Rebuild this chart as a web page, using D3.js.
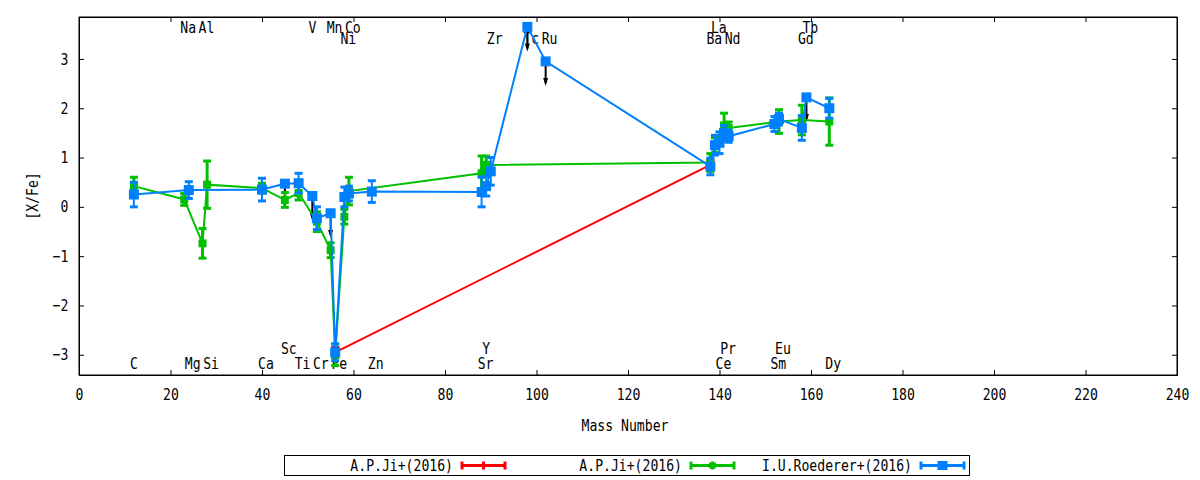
<!DOCTYPE html>
<html>
<head>
<meta charset="utf-8">
<script src="https://cdn.jsdelivr.net/npm/d3@7"></script>
<style>
  body { margin: 0; background: #fff; }
  text { font-family: "DejaVu Sans Mono", monospace; font-size: 16px; fill: #000; }
</style>
</head>
<body>
<script>
// element labels (name, mass number, row baseline in [X/Fe] units)
const labelNames = ['Na', 'Al', 'V', 'Mn', 'Co', 'La', 'Tb',
                    'Ni', 'Zr', 'Tc', 'Ru', 'Ba', 'Nd', 'Gd',
                    'Sc', 'Y', 'Pr', 'Eu',
                    'C', 'Mg', 'Si', 'Ca', 'Ti', 'Cr', 'Fe', 'Zn', 'Sr', 'Ce', 'Sm', 'Dy'];
const labelMass = [23, 27, 51, 55, 59, 139, 159,
                   58, 90, 98, 102, 138, 142, 158,
                   45, 89, 141, 153,
                   12, 24, 28, 40, 48, 52, 56, 64, 88, 140, 152, 164];
const labelRow = [3.53, 3.53, 3.53, 3.53, 3.53, 3.53, 3.53,
                  3.31, 3.31, 3.31, 3.31, 3.31, 3.31, 3.31,
                  -2.99, -2.99, -2.99, -2.99,
                  -3.28, -3.28, -3.28, -3.28, -3.28, -3.28, -3.28, -3.28, -3.28, -3.28, -3.28, -3.28];

// A.P.Ji+(2016), red
const redMass = [56, 138];
const redVal = [-2.95, 0.85];
const redErr = [0.1, 0.1];

// A.P.Ji+(2016), green
const greenMass = [12, 23, 27, 28, 40, 45, 48, 52, 55, 56, 58, 59, 88, 89, 138, 139, 141, 142, 153, 158, 164];
const greenVal = [0.42, 0.15, -0.74, 0.45, 0.38, 0.14, 0.28, -0.3, -0.88, -3.0, -0.2, 0.32, 0.68, 0.85, 0.9, 1.25, 1.65, 1.6, 1.73, 1.76, 1.73];
const greenErr = [0.18, 0.12, 0.3, 0.48, 0.1, 0.15, 0.14, 0.2, 0.15, 0.22, 0.15, 0.28, 0.35, 0.18, 0.18, 0.15, 0.25, 0.12, 0.24, 0.3, 0.48];

// I.U.Roederer+(2016), blue; upper = 1 for upper limits
const blueMass = [12, 24, 40, 45, 48, 51, 52, 55, 56, 58, 59, 64, 88, 89, 90, 98, 102, 138, 139, 140, 141, 142, 152, 153, 158, 159, 164];
const blueVal = [0.25, 0.34, 0.35, 0.47, 0.48, 0.22, -0.23, -0.13, -2.95, 0.2, 0.27, 0.31, 0.3, 0.42, 0.72, 3.65, 2.95, 0.82, 1.25, 1.3, 1.5, 1.43, 1.68, 1.78, 1.6, 2.22, 2.0];
const blueErr = [0.25, 0.17, 0.23, 0, 0.2, 0, 0.23, 0, 0.17, 0.2, 0.15, 0.22, 0.3, 0.2, 0.28, 0, 0, 0.17, 0.2, 0.22, 0.15, 0.12, 0.15, 0.12, 0.25, 0, 0.2];
const blueUpper = [0, 0, 0, 1, 0, 1, 0, 1, 0, 0, 0, 0, 0, 0, 0, 1, 1, 0, 0, 0, 0, 0, 0, 0, 0, 1, 0];

const xTicks = [0, 20, 40, 60, 80, 100, 120, 140, 160, 180, 200, 220, 240];
const yTicks = [-3, -2, -1, 0, 1, 2, 3];

// plot frame
const pLeft = 79, pRight = 1177, pTop = 17, pBottom = 375;
const sx = 0.82;      // squeeze text horizontally
const charW = 7.9;

const x = d3.scaleLinear().domain([0, 240]).range([pLeft, pRight]);
const y = d3.scaleLinear().domain([-3.41, 3.85]).range([pBottom, pTop]);

const svg = d3.select('body').append('svg')
    .attr('width', 1200)
    .attr('height', 480);

function txt(g, px, py, s, anchor, rot) {
    return g.append('text')
        .attr('transform', `translate(${px},${py})` + (rot ? ` rotate(${rot})` : '') + ` scale(${sx},1)`)
        .attr('text-anchor', anchor)
        .text(s);
}

// axes with inward ticks on all four sides
svg.append('g')
    .attr('transform', `translate(0,${pBottom})`)
    .call(d3.axisBottom(x).tickValues(xTicks).tickSizeInner(-5).tickSizeOuter(0).tickPadding(14));
svg.append('g')
    .attr('transform', `translate(0,${pTop})`)
    .call(d3.axisTop(x).tickValues(xTicks).tickSizeInner(-5).tickSizeOuter(0).tickFormat(''));
svg.append('g')
    .attr('transform', `translate(${pLeft},0)`)
    .call(d3.axisLeft(y).tickValues(yTicks).tickSizeInner(-5).tickSizeOuter(0).tickPadding(13));
svg.append('g')
    .attr('transform', `translate(${pRight},0)`)
    .call(d3.axisRight(y).tickValues(yTicks).tickSizeInner(-5).tickSizeOuter(0).tickFormat(''));

svg.selectAll('.tick text')
    .attr('transform', `scale(${sx},1)`)
    .style('font-family', '"DejaVu Sans Mono", monospace')
    .style('font-size', '16px');
svg.selectAll('.domain, .tick line').attr('stroke', '#000');

svg.append('rect')
    .attr('x', pLeft).attr('y', pTop)
    .attr('width', pRight - pLeft).attr('height', pBottom - pTop)
    .attr('fill', 'none').attr('stroke', '#000');

txt(svg, (pLeft + pRight) / 2 - 3, 431, 'Mass Number', 'middle');
txt(svg, 38, 196, '[X/Fe]', 'middle', -90);

// element names, first character centred on its mass number
const lab = svg.append('g');
labelNames.forEach((n, i) => {
    txt(lab, x(labelMass[i]) - charW / 2, y(labelRow[i]), n, 'start');
});

// upper limit arrows sit behind the series
const arr = svg.append('g');
blueMass.forEach((m, i) => {
    if (!blueUpper[i]) return;
    const px = x(m), y0 = y(blueVal[i]), y1 = y(blueVal[i] - 0.5);
    arr.append('line')
        .attr('x1', px).attr('x2', px).attr('y1', y0).attr('y2', y1 - 3)
        .attr('stroke', '#000').attr('stroke-width', 2);
    arr.append('path')
        .attr('d', `M${px - 2.5},${y1 - 8}L${px + 2.5},${y1 - 8}L${px},${y1}Z`)
        .attr('fill', '#000');
});

function drawSeries(mass, val, err, color, size, barW) {
    const pts = mass.map((m, i) => ({ m: m, v: val[i], e: err[i] }));
    const g = svg.append('g');
    g.append('path')
        .datum(pts)
        .attr('d', d3.line().x(d => x(d.m)).y(d => y(d.v)))
        .attr('fill', 'none')
        .attr('stroke', color)
        .attr('stroke-width', 2);
    const bars = pts.filter(d => d.e > 0);
    g.selectAll('line.bar')
        .data(bars)
        .enter()
        .append('line')
        .attr('x1', d => x(d.m)).attr('x2', d => x(d.m))
        .attr('y1', d => y(d.v - d.e)).attr('y2', d => y(d.v + d.e))
        .attr('stroke', color).attr('stroke-width', barW);
    [-1, 1].forEach(s => {
        g.selectAll(null)
            .data(bars)
            .enter()
            .append('line')
            .attr('x1', d => x(d.m) - 4).attr('x2', d => x(d.m) + 4)
            .attr('y1', d => y(d.v + s * d.e)).attr('y2', d => y(d.v + s * d.e))
            .attr('stroke', color).attr('stroke-width', 3);
    });
    if (size > 0) {
        g.selectAll('rect')
            .data(pts)
            .enter()
            .append('rect')
            .attr('x', d => x(d.m) - size / 2)
            .attr('y', d => y(d.v) - size / 2)
            .attr('width', size)
            .attr('height', size)
            .attr('fill', color);
    }
}

drawSeries(redMass, redVal, redErr, '#ff0000', 0, 2);
drawSeries(greenMass, greenVal, greenErr, '#00c000', 8, 3);
drawSeries(blueMass, blueVal, blueErr, '#0080ff', 10, 2);

// legend
const leg = svg.append('g');
leg.append('rect')
    .attr('x', 284.5).attr('y', 455.5)
    .attr('width', 685).attr('height', 20)
    .attr('fill', 'none').attr('stroke', '#000');

const legNames = ['A.P.Ji+(2016)', 'A.P.Ji+(2016)', 'I.U.Roederer+(2016)'];
const legColors = ['#ff0000', '#00c000', '#0080ff'];
const legSize = [0, 7, 10];
const legEnd = [453, 682, 912];

legNames.forEach((n, i) => {
    const ly = 465.5, x0 = legEnd[i] + 9, x1 = legEnd[i] + 52, xm = (x0 + x1) / 2;
    txt(leg, legEnd[i], 471, n, 'end');
    leg.append('line').attr('x1', x0).attr('x2', x1).attr('y1', ly).attr('y2', ly)
        .attr('stroke', legColors[i]).attr('stroke-width', 3);
    [x0, xm, x1].forEach(px => {
        leg.append('line').attr('x1', px).attr('x2', px).attr('y1', ly - 4).attr('y2', ly + 4)
            .attr('stroke', legColors[i]).attr('stroke-width', 3);
    });
    if (legSize[i] > 0) {
        leg.append('rect')
            .attr('x', xm - legSize[i] / 2).attr('y', ly - legSize[i] / 2 + 0.5)
            .attr('width', legSize[i]).attr('height', legSize[i] - 1)
            .attr('fill', legColors[i]);
    }
});
</script>
</body>
</html>
